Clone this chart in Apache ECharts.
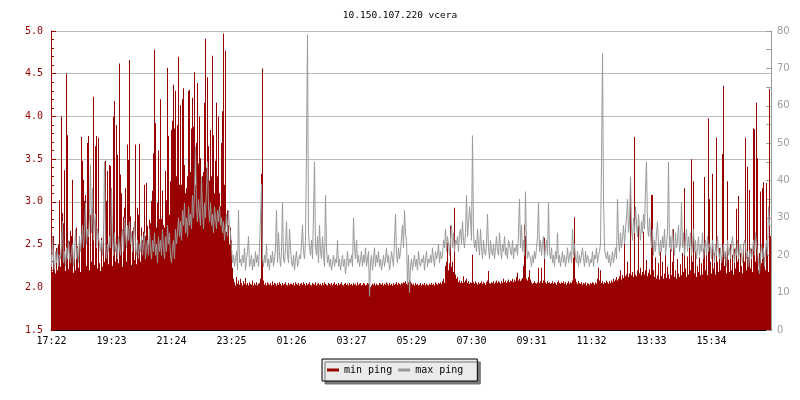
<!DOCTYPE html>
<html>
<head>
<meta charset="utf-8">
<script src="https://cdn.jsdelivr.net/npm/echarts@6/dist/echarts.min.js"></script>
<style>html,body{margin:0;padding:0;background:#fff}#c{width:800px;height:400px}</style>
</head>
<body>
<div id="c"></div>
<script>
const titleText = '10.150.107.220 vcera';
const tickLabels = ['17:22','19:23','21:24','23:25','01:26','03:27','05:29','07:30','09:31','11:32','13:33','15:34'];
const seriesNames = ['min ping','max ping'];

// min ping (left axis, ms), one value per 2-minute step
const minPing = [
2.2,2.18,2.6,2.22,2.16,2.46,2.2,2.5,3.02,2.24,
4.0,2.87,2.75,3.37,2.19,4.5,3.78,2.21,2.54,2.66,
2.6,3.26,2.17,2.42,2.2,2.7,2.48,2.23,2.6,2.18,
3.76,3.48,3.26,3.01,3.08,2.25,3.69,3.77,2.2,2.85,
2.3,2.93,4.23,2.26,3.65,3.77,2.22,3.75,2.28,2.19,
2.58,2.24,2.73,2.3,3.48,3.01,3.36,2.27,3.43,3.42,
3.16,2.25,4.0,4.18,2.3,3.9,3.55,2.28,4.62,3.32,
3.1,2.24,2.82,2.93,3.16,2.3,3.67,3.49,4.66,2.83,
2.26,2.66,2.7,2.32,3.67,2.27,2.93,2.85,3.68,2.3,
2.7,2.55,2.65,3.2,2.6,3.22,2.72,2.5,2.79,2.75,
3.01,3.13,3.57,4.78,3.92,2.7,2.99,3.6,2.8,4.2,
2.8,3.13,2.73,2.7,3.36,3.02,4.57,3.77,2.85,3.24,
3.84,3.95,4.37,3.86,4.3,3.3,3.9,4.7,3.2,4.13,
3.2,4.2,4.33,3.43,3.1,3.16,3.3,4.3,4.31,3.35,
3.86,4.22,3.88,4.52,3.2,3.69,4.39,3.45,4.0,3.51,
3.15,3.3,3.35,4.16,4.91,3.4,4.46,3.65,3.25,3.84,
3.3,4.71,3.78,3.1,3.48,4.16,3.3,4.0,3.1,2.95,
3.69,4.06,4.97,3.2,4.77,2.65,2.9,2.73,2.5,2.7,
2.55,2.23,2.1,2.06,2.02,2.12,2.04,2.08,2.03,2.1,
2.05,2.02,2.07,2.04,2.11,2.03,2.05,2.02,2.06,2.04,
2.03,2.08,2.02,2.05,2.03,2.06,2.02,2.04,2.05,2.1,
3.33,4.56,2.08,2.03,2.05,2.02,2.06,2.04,2.03,2.05,
2.02,2.07,2.03,2.05,2.04,2.02,2.05,2.03,2.06,2.04,
2.02,2.05,2.03,2.04,2.06,2.03,2.02,2.05,2.03,2.04,
2.04,2.03,2.05,2.02,2.06,2.04,2.03,2.05,2.02,2.04,
2.05,2.03,2.06,2.04,2.02,2.05,2.03,2.04,2.06,2.03,
2.02,2.05,2.04,2.03,2.06,2.02,2.04,2.05,2.03,2.04,
2.02,2.05,2.03,2.06,2.04,2.03,2.02,2.05,2.04,2.03,
2.05,2.02,2.04,2.06,2.03,2.04,2.02,2.05,2.03,2.04,
2.06,2.03,2.02,2.04,2.05,2.03,2.04,2.02,2.05,2.03,
2.04,2.02,2.05,2.03,2.04,2.02,2.06,2.03,2.04,2.05,
2.02,2.03,2.05,2.04,2.02,2.03,2.05,2.04,2.03,2.0,
2.02,2.04,2.03,2.05,2.02,2.04,2.03,2.02,2.05,2.04,
2.03,2.05,2.02,2.04,2.03,2.06,2.04,2.02,2.05,2.03,
2.04,2.02,2.05,2.03,2.04,2.06,2.03,2.05,2.04,2.03,
2.05,2.04,2.06,2.05,2.07,2.04,2.08,2.06,2.09,2.07,
2.05,2.03,2.04,2.02,2.05,2.03,2.04,2.02,2.03,2.05,
2.02,2.04,2.03,2.05,2.02,2.04,2.03,2.02,2.04,2.03,
2.05,2.03,2.04,2.02,2.06,2.04,2.03,2.05,2.04,2.06,
2.04,2.07,2.1,2.05,2.25,2.3,2.52,2.2,2.28,2.72,
2.24,2.3,2.18,2.93,2.15,2.1,2.12,2.06,2.08,2.05,
2.07,2.05,2.13,2.06,2.08,2.1,2.05,2.07,2.04,2.06,
2.05,2.38,2.06,2.04,2.07,2.05,2.03,2.06,2.04,2.05,
2.07,2.04,2.06,2.05,2.03,2.06,2.08,2.19,2.05,2.04,
2.06,2.05,2.07,2.04,2.06,2.08,2.05,2.07,2.06,2.04,
2.07,2.05,2.1,2.06,2.08,2.05,2.07,2.09,2.06,2.08,
2.07,2.1,2.06,2.09,2.07,2.12,2.17,2.08,2.1,2.07,
2.09,2.11,2.25,2.73,2.6,2.1,2.08,2.12,2.2,2.09,
2.06,2.04,2.05,2.07,2.05,2.04,2.06,2.23,2.05,2.07,
2.23,2.05,2.08,2.58,2.06,2.04,2.07,2.05,2.06,2.04,
2.05,2.07,2.04,2.06,2.05,2.03,2.06,2.08,2.05,2.04,
2.06,2.05,2.07,2.04,2.06,2.03,2.05,2.07,2.04,2.06,
2.05,2.08,2.35,2.82,2.1,2.06,2.04,2.07,2.05,2.04,
2.06,2.03,2.05,2.04,2.06,2.02,2.05,2.04,2.03,2.05,
2.04,2.06,2.05,2.03,2.06,2.04,2.1,2.23,2.08,2.2,
2.05,2.07,2.04,2.06,2.05,2.08,2.06,2.04,2.07,2.05,
2.08,2.06,2.1,2.07,2.09,2.12,2.08,2.1,2.13,2.2,
2.09,2.14,2.11,2.52,2.13,2.15,2.3,2.12,2.16,3.2,
2.14,2.18,2.12,3.76,2.15,2.13,2.2,2.72,2.16,2.23,
2.14,2.18,2.65,2.15,2.2,2.32,2.13,2.17,2.21,2.15,
3.08,3.08,2.2,2.12,2.35,2.1,2.14,2.28,2.09,2.42,
2.13,2.3,2.1,2.16,2.38,2.11,2.24,2.15,2.1,2.45,
2.14,2.3,2.68,2.12,2.2,2.1,2.33,2.16,2.12,2.27,
2.14,2.4,2.18,3.16,2.22,2.12,2.36,2.15,2.48,2.2,
3.5,2.3,3.24,2.16,2.42,2.12,2.25,2.18,2.35,2.14,
2.28,2.15,2.45,3.29,2.2,2.38,2.14,3.98,3.03,2.3,
2.16,3.33,2.22,2.4,2.15,3.75,2.3,2.18,2.46,2.2,
2.35,3.56,4.36,2.25,2.4,2.16,3.24,2.32,2.18,2.5,
2.2,2.38,2.15,2.45,2.22,2.92,2.3,3.07,2.18,2.4,
2.25,2.16,2.5,2.3,3.75,2.2,3.41,2.35,3.14,2.22,
2.45,2.18,3.86,3.85,2.3,4.16,3.51,2.2,2.4,3.12,
2.28,3.16,3.23,2.35,2.2,3.22,2.45,2.18,4.32,2.6
];

// max ping (right axis, ms)
const maxPing = [
20,17,25,19,16,21,18,22,17,20,
19,23,29,18,21,17,22,19,24,20,
18,21,23,17,20,27,19,22,18,25,
21,24,28,22,26,34,23,27,25,30,
44,26,38,24,29,31,22,27,25,23,
21,24,20,26,45,22,19,23,21,25,
22,38,24,20,26,21,23,19,25,22,
20,24,27,21,30,26,22,28,24,29,
23,26,21,25,29,22,20,24,19,23,
21,25,20,23,26,19,22,24,20,27,
22,19,24,21,26,20,23,18,25,21,
24,20,27,22,19,25,21,28,23,26,
20,18,22,24,19,27,23,26,30,25,
29,24,32,28,34,26,30,25,33,28,
31,27,36,30,37,49,33,29,35,31,
28,41,32,27,34,30,38,45,33,29,
34,28,31,26,33,30,27,32,29,33,
28,30,26,29,24,27,31,25,32,28,
26,22,18,20,17,19,21,16,32,18,
19,17,20,18,22,16,19,21,25,17,
18,20,16,19,17,21,18,20,17,22,
30,39,19,17,20,18,23,17,19,16,
20,18,21,17,19,22,32,18,26,20,
17,21,34,19,18,22,29,20,18,27,
22,18,17,20,16,19,21,17,18,20,
19,23,28,21,19,24,49,79,26,22,
20,24,19,31,45,22,20,25,18,28,
21,19,25,20,17,36,22,18,20,17,
19,16,18,20,17,19,18,24,17,19,
16,18,20,17,19,15,18,21,17,19,
18,20,17,30,22,19,24,18,20,17,
19,21,17,20,18,22,17,19,21,9,
18,20,16,19,22,17,20,18,21,17,
19,16,18,20,17,19,22,18,20,16,
18,21,19,17,24,31,20,18,22,19,
21,25,28,22,32,26,24,12,20,10,
17,19,16,18,20,17,19,16,21,18,
17,19,18,20,16,19,21,17,19,18,
20,18,22,19,17,21,19,20,23,18,
21,19,20,24,22,27,21,25,23,20,
24,28,22,26,21,24,23,25,21,26,
27,23,29,24,22,26,36,25,28,33,
30,24,52,26,22,24,21,27,23,20,
27,22,19,24,21,20,23,31,22,19,
24,21,20,23,19,22,25,21,20,26,
22,19,23,21,25,20,22,19,24,23,
21,20,24,19,22,21,23,20,26,35,
22,28,21,24,20,37,23,19,21,20,
19,17,20,18,21,19,22,25,34,21,
24,20,23,25,19,22,24,20,34,21,
19,22,18,20,17,21,19,26,18,20,
17,19,21,18,20,17,19,22,18,20,
21,18,27,20,23,19,18,21,17,20,
18,20,22,19,17,21,18,20,19,17,
19,18,21,17,20,19,22,18,20,21,
23,45,74,35,22,20,19,21,18,20,
17,19,21,18,20,22,19,35,24,21,
26,22,25,28,23,27,30,35,26,29,
41,27,24,30,26,33,28,25,31,27,
24,29,26,31,27,38,45,28,25,30,
25,22,27,20,24,21,26,29,23,20,
24,21,25,22,27,20,23,26,45,22,
25,21,27,23,20,26,22,24,28,21,
23,34,22,26,20,24,27,21,25,22,
26,20,23,27,21,24,19,22,25,20,
23,21,26,19,22,24,20,25,21,23,
22,19,24,21,18,23,20,25,21,19,
22,18,20,23,19,21,17,24,20,22,
19,23,25,21,18,22,20,24,19,21,
23,20,18,22,24,23,19,21,17,20,
22,19,21,24,20,26,23,21,18,15,
20,23,19,22,17,21,24,20,33,28
];

const categories = minPing.map((_, i) => i);
const mono = 'DejaVu Sans Mono';
const RED = '#990000';
const GRAY = '#9a9a9a';

const chart = echarts.init(document.getElementById('c'), null, {renderer: 'canvas'});
chart.setOption({
  animation: false,
  backgroundColor: '#ffffff',
  title: {
    text: titleText, left: 'center', top: 6,
    textStyle: {fontFamily: mono, fontSize: 9.5, fontWeight: 'normal', color: '#000'}
  },
  legend: {
    data: seriesNames,
    left: 322, top: 359,
    icon: 'rect', itemWidth: 12, itemHeight: 3, itemGap: 6,
    padding: [6, 14, 6, 5],
    backgroundColor: '#ebebeb', borderColor: '#000', borderWidth: 1,
    shadowColor: '#777', shadowBlur: 0, shadowOffsetX: 3, shadowOffsetY: 3,
    textStyle: {fontFamily: mono, fontSize: 10, color: '#000'}
  },
  grid: {left: 51, right: 29, top: 31, bottom: 70},
  xAxis: {
    type: 'category', data: categories, boundaryGap: true,
    axisLine: {lineStyle: {color: '#000', width: 1}},
    axisTick: {inside: true, length: 5, interval: 59, alignWithLabel: true, lineStyle: {color: '#000'}},
    axisLabel: {
      interval: 59, margin: 6, color: '#000', fontFamily: mono, fontSize: 10,
      formatter: (v, idx) => (idx % 60 === 0 && tickLabels[idx / 60]) ? tickLabels[idx / 60] : ''
    },
    splitLine: {show: false}
  },
  yAxis: [{
    type: 'value', position: 'left', min: 1.5, max: 5, interval: 0.5,
    axisLine: {show: true, lineStyle: {color: RED}},
    axisTick: {show: true, inside: true, length: 5, lineStyle: {color: RED}},
    minorTick: {show: true, splitNumber: 5, length: 3, lineStyle: {color: RED}},
    axisLabel: {color: RED, fontFamily: mono, fontSize: 10, margin: 8, formatter: v => v.toFixed(1)},
    splitLine: {show: true, lineStyle: {color: '#bbbbbb', width: 1}}
  }, {
    type: 'value', position: 'right', min: 0, max: 80, interval: 10,
    axisLine: {show: true, lineStyle: {color: GRAY}},
    axisTick: {show: true, inside: true, length: 5, lineStyle: {color: GRAY}},
    minorTick: {show: true, splitNumber: 2, length: 5, lineStyle: {color: GRAY}},
    axisLabel: {color: '#a0a0a0', fontFamily: 'DejaVu Sans', fontSize: 10, margin: 6},
    splitLine: {show: false}
  }],
  series: [{
    name: seriesNames[0], type: 'bar', data: minPing, yAxisIndex: 0,
    barCategoryGap: '0%', itemStyle: {color: RED}, z: 2
  }, {
    name: seriesNames[1], type: 'line', data: maxPing, yAxisIndex: 1, step: 'start',
    showSymbol: false, symbol: 'none', lineStyle: {color: GRAY, width: 1}, itemStyle: {color: GRAY}, z: 3
  }]
});
</script>
</body>
</html>
